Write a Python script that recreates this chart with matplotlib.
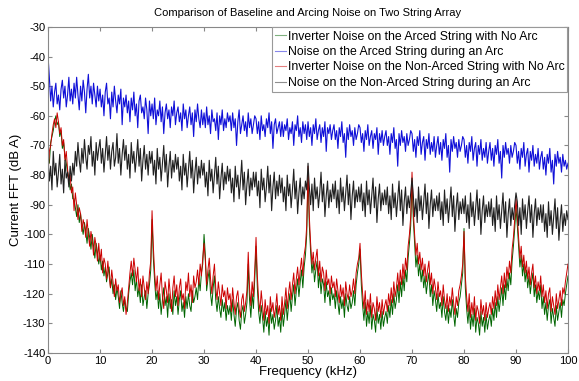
import numpy as np
import matplotlib
matplotlib.use('Agg')
import matplotlib.pyplot as plt

plt.rcParams['font.family'] = ['Liberation Sans', 'DejaVu Sans']
plt.rcParams['axes.unicode_minus'] = False

# spectra sampled every 0.25 kHz, 0..100 kHz (one row = 5 kHz)
step_khz = 0.25

# Inverter Noise on the Arced String with No Arc (green)
arced_no_arc = [
    -74, -76, -69, -67, -65, -62, -60, -63, -62, -67, -65, -71, -69, -74, -76, -79, -81, -85, -83, -88,
    -88, -91, -94, -90, -96, -93, -97, -100, -96, -99, -103, -98, -101, -105, -100, -104, -108, -103, -106, -110,
    -107, -112, -109, -114, -111, -116, -113, -111, -118, -115, -120, -117, -122, -118, -121, -125, -119, -123, -126, -122,
    -125, -126, -120, -116, -113, -117, -112, -119, -115, -121, -118, -123, -117, -124, -121, -119, -125, -120, -117, -112,
    -95, -108, -116, -122, -119, -125, -120, -127, -122, -118, -124, -121, -128, -120, -125, -122, -127, -119, -124, -121,
    -127, -122, -119, -126, -123, -128, -121, -125, -120, -124, -126, -119, -123, -121, -118, -122, -115, -119, -113, -110,
    -100, -107, -119, -115, -112, -120, -124, -118, -114, -122, -126, -121, -125, -128, -122, -126, -123, -129, -124, -127,
    -124, -129, -122, -127, -131, -125, -123, -129, -132, -126, -124, -130, -127, -123, -110, -122, -128, -120, -125, -115,
    -104, -118, -126, -130, -124, -128, -133, -126, -131, -128, -134, -125, -130, -127, -132, -129, -124, -131, -128, -133,
    -125, -131, -127, -122, -129, -124, -120, -126, -121, -117, -124, -119, -115, -121, -116, -112, -118, -111, -107, -100,
    -80, -97, -106, -113, -109, -116, -112, -109, -118, -113, -120, -115, -117, -123, -116, -121, -119, -124, -118, -122,
    -120, -125, -119, -123, -127, -121, -125, -122, -128, -120, -124, -126, -121, -125, -123, -119, -124, -117, -113, -110,
    -105, -117, -124, -129, -123, -131, -126, -130, -124, -132, -127, -129, -133, -125, -130, -127, -132, -126, -131, -128,
    -126, -130, -124, -128, -122, -127, -120, -125, -122, -117, -123, -116, -121, -114, -119, -112, -116, -108, -103, -97,
    -82, -95, -103, -111, -107, -114, -110, -116, -112, -118, -114, -120, -116, -113, -121, -117, -124, -119, -122, -126,
    -120, -125, -123, -128, -121, -126, -129, -124, -130, -125, -128, -122, -127, -131, -125, -128, -123, -121, -117, -113,
    -98, -118, -125, -130, -124, -132, -127, -131, -125, -133, -128, -130, -134, -126, -131, -128, -133, -127, -132, -129,
    -127, -131, -125, -129, -123, -128, -121, -126, -122, -118, -124, -117, -122, -115, -119, -113, -117, -109, -104, -98,
    -91, -97, -104, -111, -107, -114, -110, -116, -112, -118, -114, -120, -116, -113, -121, -117, -123, -119, -122, -117,
    -125, -121, -127, -123, -129, -124, -122, -130, -125, -128, -131, -124, -129, -126, -123, -128, -122, -124, -120, -117,
    -114,
]

# Noise on the Arced String during an Arc (blue)
arced_arc = [
    -40, -47, -55, -50, -57, -52, -49, -56, -53, -58, -51, -48, -54, -50, -57, -53, -47, -55, -51, -56,
    -49, -54, -47, -53, -58, -50, -55, -48, -52, -59, -51, -46, -54, -50, -56, -49, -53, -57, -50, -55,
    -51, -57, -53, -60, -52, -49, -56, -54, -61, -52, -57, -50, -55, -59, -53, -56, -51, -63, -54, -57,
    -53, -59, -55, -62, -54, -58, -52, -60, -56, -64, -55, -53, -59, -57, -61, -54, -58, -66, -55, -60,
    -56, -61, -54, -63, -58, -60, -55, -62, -57, -66, -59, -56, -61, -58, -64, -57, -60, -55, -63, -59,
    -57, -62, -59, -65, -56, -61, -58, -64, -60, -57, -63, -59, -67, -58, -62, -56, -61, -64, -58, -63,
    -59, -64, -57, -63, -60, -66, -58, -62, -61, -65, -59, -68, -60, -63, -58, -65, -61, -64, -59, -62,
    -60, -65, -59, -64, -61, -70, -62, -58, -66, -63, -60, -65, -62, -67, -59, -64, -61, -66, -63, -60,
    -61, -66, -62, -68, -60, -65, -63, -67, -61, -64, -59, -66, -62, -71, -63, -61, -66, -64, -62, -67,
    -62, -67, -63, -65, -61, -68, -64, -66, -62, -70, -63, -65, -60, -67, -64, -69, -62, -66, -63, -68,
    -62, -67, -64, -70, -63, -66, -61, -68, -65, -63, -69, -64, -67, -62, -72, -64, -66, -63, -68, -65,
    -63, -68, -65, -71, -64, -67, -62, -69, -66, -74, -64, -68, -63, -67, -65, -70, -64, -68, -66, -63,
    -64, -69, -66, -72, -65, -68, -63, -70, -67, -65, -71, -66, -68, -64, -73, -66, -69, -65, -70, -67,
    -65, -70, -67, -73, -66, -69, -64, -71, -68, -77, -66, -70, -65, -69, -67, -72, -66, -70, -68, -65,
    -66, -72, -68, -74, -67, -70, -65, -73, -69, -67, -75, -68, -71, -66, -73, -69, -72, -67, -74, -70,
    -67, -73, -69, -75, -68, -71, -66, -74, -70, -79, -68, -72, -67, -71, -69, -74, -68, -72, -70, -67,
    -68, -74, -70, -76, -69, -72, -67, -75, -71, -69, -77, -70, -73, -68, -75, -71, -74, -69, -76, -72,
    -69, -75, -71, -77, -70, -73, -68, -76, -72, -81, -70, -74, -69, -73, -71, -76, -70, -74, -72, -69,
    -70, -76, -72, -78, -71, -74, -69, -77, -73, -71, -79, -72, -75, -70, -77, -73, -76, -71, -78, -74,
    -72, -78, -74, -80, -73, -76, -71, -79, -75, -83, -73, -77, -72, -76, -74, -79, -73, -77, -75, -78,
    -76,
]

# Inverter Noise on the Non-Arced String with No Arc (red)
non_arced_no_arc = [
    -80, -72, -70, -66, -63, -61, -64, -59, -62, -66, -64, -70, -68, -75, -72, -78, -82, -80, -86, -84,
    -92, -86, -90, -95, -91, -93, -99, -95, -97, -101, -95, -100, -104, -99, -102, -107, -101, -104, -109, -103,
    -109, -105, -113, -108, -110, -115, -109, -114, -118, -112, -116, -121, -115, -119, -117, -123, -120, -118, -124, -121,
    -127, -123, -118, -113, -109, -114, -108, -112, -116, -111, -119, -115, -121, -114, -118, -122, -116, -120, -113, -109,
    -92, -104, -113, -119, -114, -122, -117, -113, -121, -125, -116, -119, -123, -115, -120, -126, -118, -114, -121, -117,
    -124, -118, -115, -122, -120, -125, -116, -119, -113, -121, -117, -123, -114, -118, -116, -112, -117, -110, -114, -108,
    -103, -109, -117, -112, -108, -115, -120, -114, -110, -118, -122, -116, -120, -124, -117, -121, -119, -125, -118, -122,
    -120, -126, -118, -123, -127, -121, -119, -125, -128, -122, -120, -126, -123, -119, -106, -118, -124, -116, -121, -112,
    -101, -114, -122, -126, -119, -124, -129, -122, -127, -124, -130, -121, -126, -123, -128, -125, -120, -127, -124, -129,
    -121, -127, -123, -118, -125, -120, -116, -122, -117, -113, -120, -115, -111, -117, -112, -108, -114, -107, -104, -97,
    -77, -94, -103, -110, -106, -112, -108, -105, -114, -109, -116, -111, -113, -119, -112, -117, -115, -120, -114, -118,
    -116, -121, -115, -119, -123, -117, -121, -118, -124, -116, -120, -122, -117, -121, -119, -115, -120, -113, -110, -108,
    -103, -113, -120, -125, -119, -127, -122, -126, -120, -128, -123, -125, -129, -121, -126, -123, -128, -122, -127, -124,
    -122, -126, -120, -124, -118, -123, -116, -121, -118, -113, -119, -112, -117, -110, -115, -108, -112, -104, -100, -94,
    -79, -92, -100, -107, -103, -110, -106, -112, -108, -114, -110, -116, -112, -109, -117, -113, -120, -115, -118, -122,
    -116, -121, -119, -124, -117, -122, -125, -120, -126, -121, -124, -118, -123, -127, -121, -124, -119, -117, -114, -110,
    -99, -114, -121, -126, -120, -128, -123, -127, -121, -129, -124, -126, -130, -122, -127, -124, -129, -123, -128, -125,
    -123, -127, -121, -125, -119, -124, -117, -122, -118, -114, -120, -113, -118, -111, -115, -109, -113, -105, -101, -95,
    -88, -94, -101, -108, -104, -111, -107, -113, -109, -115, -111, -117, -113, -110, -118, -114, -120, -116, -119, -114,
    -121, -117, -123, -119, -125, -120, -118, -126, -121, -124, -127, -120, -125, -122, -119, -124, -118, -120, -116, -113,
    -110,
]

# Noise on the Non-Arced String during an Arc (black)
non_arced_arc = [
    -74, -82, -77, -85, -72, -80, -76, -84, -79, -73, -83, -78, -86, -75, -81, -79, -84, -77, -82, -76,
    -80, -72, -77, -69, -75, -79, -71, -76, -68, -74, -78, -70, -73, -67, -77, -72, -80, -69, -75, -71,
    -68, -76, -71, -79, -73, -67, -75, -70, -78, -72, -69, -77, -74, -66, -76, -71, -80, -73, -68, -75,
    -70, -78, -73, -81, -69, -76, -72, -79, -74, -68, -77, -71, -82, -75, -70, -78, -73, -80, -72, -76,
    -72, -80, -75, -83, -71, -78, -74, -82, -76, -70, -79, -73, -84, -77, -72, -81, -75, -79, -73, -78,
    -74, -82, -77, -85, -73, -80, -76, -84, -78, -72, -81, -75, -86, -79, -74, -83, -77, -81, -75, -80,
    -76, -84, -79, -87, -75, -82, -78, -86, -80, -74, -83, -77, -88, -81, -76, -85, -79, -83, -77, -82,
    -78, -86, -81, -89, -77, -84, -80, -88, -82, -75, -85, -79, -90, -83, -78, -87, -81, -85, -79, -84,
    -79, -87, -82, -91, -78, -85, -81, -89, -84, -77, -86, -80, -92, -84, -79, -88, -82, -87, -80, -86,
    -81, -89, -84, -92, -80, -87, -83, -91, -85, -78, -88, -82, -93, -86, -81, -90, -84, -88, -82, -85,
    -76, -84, -90, -83, -92, -81, -88, -84, -91, -86, -79, -89, -83, -94, -87, -82, -91, -85, -89, -83,
    -88, -82, -91, -85, -93, -81, -89, -84, -92, -86, -80, -90, -83, -95, -87, -82, -91, -85, -89, -84,
    -89, -83, -92, -86, -94, -82, -90, -85, -93, -87, -81, -91, -84, -96, -88, -83, -92, -86, -90, -85,
    -90, -84, -93, -87, -95, -83, -91, -86, -94, -88, -82, -92, -85, -97, -89, -84, -93, -87, -91, -86,
    -81, -87, -94, -88, -96, -84, -92, -87, -95, -89, -83, -93, -86, -98, -90, -85, -94, -88, -92, -87,
    -92, -86, -95, -89, -97, -85, -93, -88, -96, -90, -84, -94, -87, -99, -91, -86, -95, -89, -93, -88,
    -93, -87, -96, -90, -98, -86, -94, -89, -97, -91, -85, -95, -88, -100, -92, -87, -96, -90, -94, -89,
    -94, -88, -97, -91, -99, -87, -95, -90, -98, -92, -86, -96, -89, -101, -93, -88, -97, -91, -95, -90,
    -86, -89, -97, -91, -100, -88, -95, -90, -98, -92, -87, -96, -90, -101, -93, -88, -97, -91, -95, -90,
    -96, -90, -99, -93, -101, -89, -97, -92, -100, -94, -88, -98, -91, -102, -95, -90, -99, -93, -97, -92,
    -95,
]

labels = [
    'Inverter Noise on the Arced String with No Arc',
    'Noise on the Arced String during an Arc',
    'Inverter Noise on the Non-Arced String with No Arc',
    'Noise on the Non-Arced String during an Arc',
]
series = [arced_no_arc, arced_arc, non_arced_no_arc, non_arced_arc]
colors = ['#006400', '#1010d8', '#cc0000', '#202020']
widths = [0.7, 0.8, 0.7, 0.8]

fig = plt.figure(figsize=(5.79, 3.81), dpi=100)
ax = fig.add_axes([0.083, 0.0735, 0.898, 0.856])

for vals, lab, col, lw in zip(series, labels, colors, widths):
    freq = np.arange(len(vals)) * step_khz
    ax.plot(freq, vals, color=col, linewidth=lw, label=lab)

ax.set_xlim(0, 100)
ax.set_ylim(-140, -30)
ax.set_xticks(np.arange(0, 101, 10))
ax.set_yticks(np.arange(-140, -29, 10))
ax.tick_params(direction='in', top=True, right=True, labelsize=8,
               length=3, color='#888888', pad=2)
for s in ax.spines.values():
    s.set_color('#888888')
    s.set_linewidth(0.8)

ax.set_title('Comparison of Baseline and Arcing Noise on Two String Array',
             fontsize=8, pad=8)
ax.set_xlabel('Frequency (kHz)', fontsize=9.5, labelpad=0)
ax.set_ylabel('Current FFT (dB A)', fontsize=9.5, labelpad=1)

leg = ax.legend(loc='upper right', fontsize=8.8, handlelength=0.9,
                handletextpad=0.1, borderpad=0.25, labelspacing=0.28,
                borderaxespad=0.05, fancybox=False, framealpha=1)
leg.get_frame().set_edgecolor('#999999')
leg.get_frame().set_linewidth(0.8)
for ln in leg.get_lines():
    ln.set_alpha(0.5)
    ln.set_linewidth(0.8)

fig.savefig('out.png', dpi=100)
